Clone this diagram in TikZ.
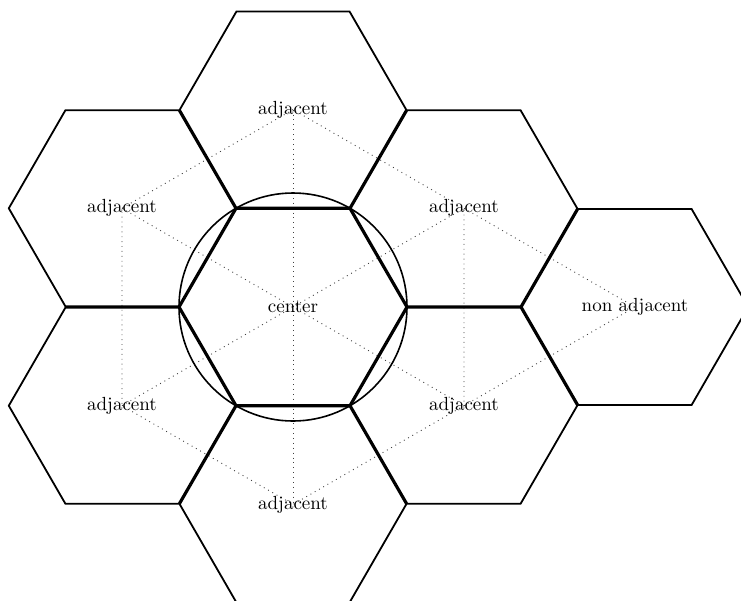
\documentclass[tikz,border=0pt]{standalone}
\begin{document}
\begin{tikzpicture}[x=0.5pt,y=-0.5pt,
  hexline/.style={line width=0.9pt,line join=miter},
  ringline/.style={line width=0.8pt},
  linkline/.style={dotted,line width=0.45pt,black!75},
  lbl/.style={font=\fontsize{9.5}{11}\selectfont,inner sep=1pt}]
\useasboundingbox (0,0) rectangle (741,601);
\clip (0,0) rectangle (741,601);
% hexagon centres
\coordinate (hc) at (293,307);
\coordinate (ht) at (293,109.6);
\coordinate (hul) at (122,208.3);
\coordinate (hur) at (464,208.3);
\coordinate (hll) at (122,405.7);
\coordinate (hlr) at (464,405.7);
\coordinate (hb) at (293,504.4);
\coordinate (hna) at (635,307);
% dotted links
\draw[linkline] (ht) -- (hul) -- (hll) -- (hb) -- (hlr) -- (hur) -- cycle;
\draw[linkline] (ht) -- (hb);
\draw[linkline] (hul) -- (hlr);
\draw[linkline] (hll) -- (hur);
\draw[linkline] (hur) -- (hna);
\draw[linkline] (hlr) -- (hna);
% hexagons
\foreach \p in {hc,ht,hul,hur,hll,hlr,hb,hna}{
  \draw[hexline] (\p) +(0:113.2) -- +(60:113.2) -- +(120:113.2) -- +(180:113.2)
     -- +(240:113.2) -- +(300:113.2) -- cycle;
}
% circumscribed circle
\draw[ringline] (hc) circle[radius=114];
% labels
\node[lbl] (lc) at (hc) {center};
\node[lbl] (lt) at (ht) {adjacent};
\node[lbl] (lul) at (hul) {adjacent};
\node[lbl] (lur) at (hur) {adjacent};
\node[lbl] (lll) at (hll) {adjacent};
\node[lbl] (llr) at (hlr) {adjacent};
\node[lbl] (lb) at (hb) {adjacent};
\node[lbl] (lna) at (hna) {non adjacent};
\end{tikzpicture}
\end{document}
